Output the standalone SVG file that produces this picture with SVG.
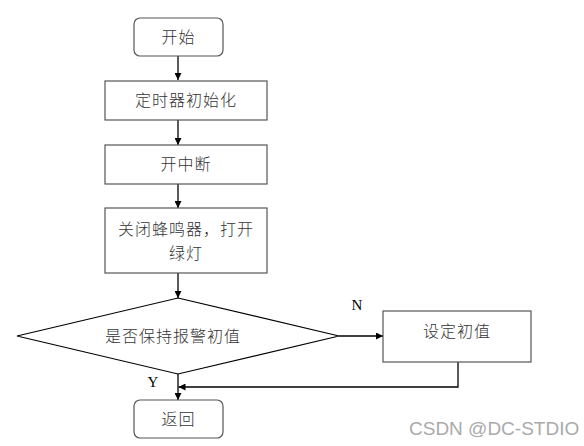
<svg xmlns="http://www.w3.org/2000/svg" width="584" height="446" viewBox="0 0 584 446">
<style>
.box{fill:#fff;stroke:#555;stroke-width:1.2}
.t{font-family:"Liberation Serif","Noto Sans CJK SC",serif;font-size:16px;font-weight:300;fill:#333;text-anchor:middle;dominant-baseline:central;letter-spacing:1px}
.lbl{font-family:"Liberation Serif",serif;font-size:15px;fill:#000;text-anchor:middle;dominant-baseline:central}
.c{fill:none;stroke:#000;stroke-width:1.3}
.wm{font-family:"Liberation Sans","DejaVu Sans",sans-serif;font-size:19px;fill:#aaa}
</style>
<defs>
<marker id="ah" viewBox="0 0 10 10" refX="10" refY="5" markerWidth="7" markerHeight="7" orient="auto" markerUnits="userSpaceOnUse">
<path d="M0,0 L10,5 L0,10 z" fill="#000"/>
</marker>
</defs>
<rect width="584" height="446" fill="#fff"/>
<g id="connectors">
<line class="c" x1="178" y1="56" x2="178" y2="80" marker-end="url(#ah)"/>
<line class="c" x1="178" y1="120" x2="178" y2="145" marker-end="url(#ah)"/>
<line class="c" x1="178" y1="184" x2="178" y2="208" marker-end="url(#ah)"/>
<line class="c" x1="178" y1="273" x2="178" y2="298" marker-end="url(#ah)"/>
<line class="c" x1="339" y1="336" x2="383" y2="336" marker-end="url(#ah)"/>
<line class="c" x1="178" y1="374" x2="178" y2="400" marker-end="url(#ah)"/>
<polyline class="c" points="458,362 458,387 178.5,387" marker-end="url(#ah)"/>
<text class="lbl" x="357" y="305">N</text>
<text class="lbl" x="153" y="382">Y</text>
</g>
<g id="start">
<rect class="box" x="134" y="18" width="89" height="38" rx="6"/>
<text class="t" x="178.5" y="37">开始</text>
</g>
<g id="timerInit">
<rect class="box" x="105" y="81" width="162" height="39"/>
<text class="t" x="186" y="100.5">定时器初始化</text>
</g>
<g id="enableInt">
<rect class="box" x="105" y="145" width="162" height="39"/>
<text class="t" x="186" y="164.5">开中断</text>
</g>
<g id="buzzerOff">
<rect class="box" x="105" y="208" width="162" height="65"/>
<text class="t" x="186" y="229">关闭蜂鸣器，打开</text>
<text class="t" x="186" y="253">绿灯</text>
</g>
<g id="decision">
<polygon class="box" points="178,298 339,336 178,374 17,336" style="stroke:#000"/>
<text class="t" x="173" y="336">是否保持报警初值</text>
</g>
<g id="setInit">
<rect class="box" x="383" y="311" width="148" height="51"/>
<text class="t" x="457" y="331">设定初值</text>
</g>
<g id="return">
<rect class="box" x="134" y="400" width="89" height="38" rx="6"/>
<text class="t" x="178.5" y="419">返回</text>
</g>
<text class="wm" x="409" y="435">CSDN @DC-STDIO</text>
</svg>
